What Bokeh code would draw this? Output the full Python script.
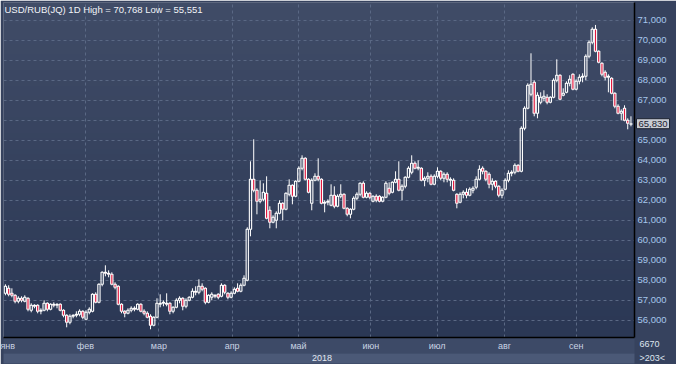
import numpy as np
from bokeh.plotting import figure
from bokeh.models import (ColumnDataSource, FixedTicker, LinearAxis, Label, Range1d)
from bokeh.embed import file_html
from bokeh.resources import INLINE

# ---- data: USD/RUB daily candles, Jan..Sep 2018 ----
opens = [
    57.35, 57.60, 57.35, 57.25, 56.95, 57.10, 56.95, 57.10, 56.50, 56.75, 56.75, 56.45, 56.50,
    56.85, 56.55, 56.80, 56.75, 56.80, 56.50, 56.25, 55.90, 56.20, 56.25, 56.30, 56.45,
    56.05, 56.40, 56.45, 57.30, 56.90, 57.80, 58.40, 58.35, 58.30, 57.80, 57.70, 56.80, 56.45,
    56.35, 56.50, 56.60, 56.55, 56.80, 56.45, 56.35, 56.20, 55.75, 56.15,
    56.80, 56.85, 56.85, 56.85, 56.45, 56.65, 57.00, 57.10, 56.70, 57.00, 57.15, 57.45,
    57.40, 57.70, 57.60, 56.90, 57.15, 57.25, 57.30, 57.20, 57.75, 57.35, 57.15,
    57.35, 57.60, 57.45, 57.75, 58.00, 60.55, 63.05, 62.50, 61.95, 62.05, 62.35, 61.50,
    60.90, 61.00, 61.35, 61.85, 61.55, 62.30, 62.75, 62.20,
    62.95, 63.60, 64.10, 63.05, 61.85, 63.00, 63.20, 63.05, 61.85, 61.90, 61.75, 62.25,
    61.70, 62.20, 62.30, 61.60, 61.30, 61.55, 62.10, 62.30, 62.85, 62.15, 62.35,
    61.95, 62.20, 62.20, 61.95, 62.15, 62.60, 62.40, 62.90, 63.05, 62.50, 62.70, 63.15,
    63.40, 63.85, 63.60, 63.60, 63.00, 63.10, 63.20, 62.80,
    63.20, 63.45, 63.10, 63.30, 63.00, 63.00, 62.30, 61.90, 62.30, 62.40, 62.25, 62.50,
    62.65, 63.05, 63.60, 63.45, 63.30, 62.80, 62.95, 62.70, 62.25,
    62.55, 63.00, 63.35, 63.40, 63.75, 63.45, 65.60, 66.60, 67.30, 67.90, 66.35, 66.90,
    67.10, 67.15, 66.90, 67.15, 68.00, 68.25, 67.25, 67.40, 67.85, 68.30,
    67.55, 67.95, 68.15, 68.20, 69.20, 69.90, 70.55, 69.45, 68.85, 68.40, 68.15, 68.10,
    67.35, 66.70, 66.35, 66.60, 66.00, 65.80,
]
highs = [
    57.80, 57.75, 57.60, 57.30, 57.20, 57.20, 57.25, 57.15, 56.85, 56.80, 56.80, 56.60, 57.00,
    56.90, 56.85, 56.90, 56.85, 56.85, 56.55, 56.30, 56.30, 56.30, 56.45, 56.55, 56.50,
    56.50, 56.65, 57.35, 57.40, 57.85, 58.45, 58.75, 58.50, 58.40, 57.90, 57.75, 56.85, 56.50,
    56.60, 56.70, 56.70, 56.85, 56.85, 56.55, 56.45, 56.30, 56.20, 57.10,
    57.30, 57.00, 57.35, 56.90, 56.70, 57.10, 57.20, 57.15, 57.10, 57.20, 57.60, 57.70,
    58.05, 57.85, 57.65, 57.30, 57.40, 57.30, 57.35, 57.85, 57.80, 57.40, 57.45,
    57.65, 57.85, 57.85, 58.25, 60.65, 63.95, 65.05, 62.60, 63.00, 62.85, 63.20, 61.70,
    61.25, 61.45, 62.00, 61.90, 62.40, 63.05, 62.80, 63.00,
    63.70, 64.25, 64.15, 63.10, 63.10, 63.35, 64.10, 63.10, 62.00, 62.05, 62.80, 62.70,
    62.30, 62.80, 62.35, 61.65, 61.60, 62.20, 62.40, 62.90, 62.95, 62.45, 62.40,
    62.25, 62.30, 62.25, 62.20, 62.95, 62.90, 62.95, 63.45, 63.95, 62.80, 63.20, 63.70,
    64.25, 63.95, 64.00, 63.65, 63.20, 63.40, 63.30, 63.30,
    63.65, 63.50, 63.40, 63.40, 63.15, 63.10, 62.35, 62.40, 62.50, 62.60, 62.65, 62.70,
    63.20, 63.75, 63.70, 63.50, 63.40, 63.10, 63.00, 62.75, 62.60,
    63.10, 63.50, 63.50, 63.85, 63.80, 65.70, 66.70, 67.85, 69.35, 68.00, 67.40, 67.40,
    67.50, 67.30, 67.20, 68.10, 69.05, 68.30, 67.60, 67.95, 68.25, 68.35,
    68.05, 68.30, 68.35, 69.30, 70.00, 70.65, 70.768, 69.50, 68.90, 68.50, 68.30, 68.15,
    67.40, 66.80, 66.55, 66.75, 66.10, 66.20,
]
lows = [
    57.25, 57.20, 57.15, 56.85, 56.85, 56.90, 56.90, 56.45, 56.40, 56.60, 56.35, 56.30, 56.45,
    56.45, 56.50, 56.65, 56.60, 56.45, 56.15, 55.65, 55.80, 56.10, 56.15, 56.20, 56.05,
    56.00, 56.30, 56.40, 56.85, 56.85, 57.70, 58.20, 58.15, 57.75, 57.55, 56.75, 56.35, 56.15,
    56.30, 56.40, 56.45, 56.50, 56.40, 56.25, 56.10, 55.551, 55.70, 56.10,
    56.65, 56.70, 56.70, 56.30, 56.35, 56.60, 56.85, 56.50, 56.60, 56.95, 57.10, 57.25,
    57.30, 57.45, 56.80, 56.85, 57.00, 57.10, 57.05, 57.15, 57.30, 57.05, 57.10,
    57.30, 57.40, 57.40, 57.70, 57.95, 60.20, 62.40, 61.30, 61.85, 61.95, 61.05, 60.60,
    60.85, 60.60, 61.30, 61.00, 61.50, 62.20, 61.80, 62.15,
    62.90, 63.50, 63.00, 62.35, 61.50, 62.95, 62.95, 61.80, 61.40, 61.75, 61.70, 61.60,
    61.65, 62.10, 61.55, 61.20, 61.10, 61.50, 62.00, 62.20, 62.10, 62.10, 62.05,
    61.90, 61.90, 61.90, 61.90, 62.10, 62.25, 62.35, 62.85, 62.45, 62.00, 62.60, 63.10,
    63.30, 63.55, 63.50, 62.95, 62.70, 62.90, 62.75, 62.75,
    63.10, 63.00, 62.90, 62.90, 62.70, 62.45, 61.60, 61.85, 62.10, 62.10, 62.20, 62.35,
    62.55, 63.00, 63.30, 62.95, 62.60, 62.50, 62.60, 62.15, 62.10,
    62.50, 62.90, 63.20, 63.30, 63.40, 63.40, 65.50, 66.55, 67.20, 66.20, 66.10, 66.80,
    66.95, 66.80, 66.85, 67.10, 67.90, 67.00, 67.20, 67.35, 67.70, 67.50,
    67.50, 67.80, 67.90, 68.00, 69.10, 69.80, 69.40, 68.85, 68.20, 68.00, 67.40, 67.30,
    66.60, 66.30, 66.00, 65.95, 65.55, 65.70,
]
closes = [
    57.70, 57.30, 57.25, 56.95, 57.10, 57.00, 57.15, 56.55, 56.75, 56.70, 56.45, 56.50, 56.85,
    56.55, 56.80, 56.75, 56.80, 56.50, 56.25, 55.90, 56.20, 56.25, 56.30, 56.45, 56.15,
    56.40, 56.55, 57.30, 56.90, 57.80, 58.40, 58.35, 58.30, 57.80, 57.65, 56.80, 56.45, 56.35,
    56.50, 56.60, 56.55, 56.80, 56.45, 56.35, 56.15, 55.75, 56.15, 56.85,
    56.85, 56.90, 56.80, 56.45, 56.65, 57.00, 57.10, 56.70, 57.00, 57.15, 57.45, 57.40,
    57.70, 57.55, 56.90, 57.25, 57.30, 57.20, 57.15, 57.75, 57.40, 57.15, 57.35,
    57.55, 57.45, 57.75, 58.10, 60.55, 63.05, 62.50, 61.95, 62.05, 62.40, 61.10, 60.90,
    61.15, 61.35, 61.85, 61.55, 62.35, 62.75, 62.20, 62.95,
    63.60, 64.10, 63.05, 62.40, 63.00, 63.20, 63.05, 61.85, 61.90, 61.95, 62.25, 61.70,
    62.20, 62.30, 61.60, 61.30, 61.55, 62.10, 62.30, 62.85, 62.15, 62.35, 62.15,
    62.20, 62.00, 61.95, 62.15, 62.85, 62.35, 62.90, 63.05, 62.50, 62.70, 63.15, 63.60,
    63.85, 63.60, 63.65, 63.00, 63.10, 63.20, 62.80, 63.20,
    63.45, 63.10, 63.30, 63.05, 63.05, 62.50, 61.85, 62.30, 62.40, 62.25, 62.55, 62.60,
    63.05, 63.55, 63.45, 63.05, 62.80, 62.95, 62.70, 62.25, 62.50,
    63.00, 63.35, 63.40, 63.75, 63.45, 65.60, 66.60, 67.75, 67.80, 66.35, 67.25, 67.15,
    67.20, 66.90, 67.15, 68.00, 68.25, 67.05, 67.35, 67.85, 68.05, 67.55,
    67.95, 68.15, 68.20, 69.20, 69.90, 70.55, 69.45, 68.90, 68.30, 68.15, 68.20, 67.35,
    66.70, 66.35, 66.45, 66.00, 65.85, 65.83,
]

month_labels = ["янв", "фев", "мар", "апр", "май", "июн", "июл", "авг", "сен"]
month_pos = [-0.55, 24.8, 47.6, 70.3, 90.9, 113.3, 133.9, 154.8, 177.0]
year_label = "2018"
year_pos = 98.2
y_ticks = list(range(56, 72))
y_tick_labels = ["%d,000" % t for t in y_ticks]
title_text = "USD/RUB(JQ) 1D High = 70,768 Low = 55,551"
last_price_text = "65,830"
last_price = 65.83
covered_tick = 66            # hidden under the last-price box
corner_text = "\n\n6670\n>203<"
corner_tick = 55.15

# ---- layout / style ----
X0, X1 = -0.6, 195.1
Y0, Y1 = 55.14, 71.89
FONT = "Liberation Sans"
BORDER_BG = "#36425e"
UP_LINE = "#ffffff"
DOWN_FILL = "#e3173e"
PRICE_BOX_W = 33             # width of the last-price box panel (px)

p = figure(width=676, height=364, output_backend="svg", toolbar_location=None,
           x_range=Range1d(X0, X1), y_range=Range1d(Y0, Y1),
           y_axis_location="right",
           min_border_left=3, min_border_right=42, min_border_top=2, min_border_bottom=27)
p.border_fill_color = BORDER_BG
p.background_fill_color = "#36425e"
p.outline_line_color = None

# vertical gradient background of the plotting area
rows = 64
top_c = np.array([64, 76, 103], dtype=float)
bot_c = np.array([43, 56, 85], dtype=float)
t = np.linspace(0.0, 1.0, rows)[:, None]
cols = bot_c + (top_c - bot_c) * t
img = np.zeros((rows, 2), dtype=np.uint32)
view = img.view(dtype=np.uint8).reshape((rows, 2, 4))
for k in range(3):
    view[:, :, k] = cols[:, k].astype(np.uint8)[:, None]
view[:, :, 3] = 255
bg = p.image_rgba(image=[img], x=X0, y=Y0, dw=X1 - X0, dh=Y1 - Y0)
bg.level = "image"

# grid
p.xgrid.ticker = FixedTicker(ticks=month_pos[1:])
p.ygrid.ticker = FixedTicker(ticks=y_ticks)
for g in (p.xgrid, p.ygrid):
    g.grid_line_color = "#5a6884"
    g.grid_line_dash = "3 3"
    g.grid_line_width = 1

# candles
x = list(range(len(closes)))
up = [c >= o for o, c in zip(opens, closes)]
body_top = [max(o, c) for o, c in zip(opens, closes)]
body_bot = [min(o, c) for o, c in zip(opens, closes)]
src = ColumnDataSource(dict(x=x, high=highs, low=lows, top=body_top, bottom=body_bot))
p.segment(x0="x", y0="high", x1="x", y1="top", source=src, line_color=UP_LINE, line_width=1)
p.segment(x0="x", y0="bottom", x1="x", y1="low", source=src, line_color=UP_LINE, line_width=1)

def subset(mask):
    return ColumnDataSource(dict(
        x=[xi for xi, m in zip(x, mask) if m],
        top=[v for v, m in zip(body_top, mask) if m],
        bottom=[v for v, m in zip(body_bot, mask) if m]))

p.vbar(x="x", width=0.7, top="top", bottom="bottom", source=subset(up),
       fill_color=None, line_color=UP_LINE, line_width=1.1)
p.vbar(x="x", width=0.7, top="top", bottom="bottom", source=subset([not u for u in up]),
       fill_color=DOWN_FILL, line_color=UP_LINE, line_width=1.1)

def bare(ax):
    ax.major_tick_out = 0
    ax.major_tick_in = 0
    ax.minor_tick_out = 0
    ax.minor_tick_in = 0

# black separator line on the right edge of the plotting area (label-less axis)
sep = LinearAxis(ticker=FixedTicker(ticks=[]), axis_line_color="black", axis_line_width=1.5,
                 major_label_standoff=0)
bare(sep)

# last-price box (side-panel label, not clipped to the frame)
lp = Label(x=X1, y=last_price, x_offset=2, text=last_price_text,
           text_baseline="middle", text_align="left", text_color="#1b2130",
           text_font=FONT, text_font_size="9.5px", padding=2,
           background_fill_color="#c8ccd3", border_line_color="#1e2432")

# right price axis (labels pulled back next to the frame)
ya = p.yaxis[0]
ya.ticker = FixedTicker(ticks=y_ticks)
ya.major_label_overrides = {tk: ("" if tk == covered_tick else lab)
                            for tk, lab in zip(y_ticks, y_tick_labels)}
ya.major_label_text_color = "#a6c6ec"
ya.major_label_text_font = FONT
ya.major_label_text_font_size = "9.5px"
bare(ya)
ya.axis_line_color = None
ya.major_label_standoff = 3 - PRICE_BOX_W

# bottom-right corner texts
ca = LinearAxis(ticker=FixedTicker(ticks=[corner_tick]),
                major_label_overrides={corner_tick: corner_text})
bare(ca)
ca.axis_line_color = None
ca.major_label_text_color = "#dfe5ef"
ca.major_label_text_font = FONT
ca.major_label_text_font_size = "9px"
ca.major_label_text_line_height = 1.4
ca.major_label_standoff = -30

p.right = [sep, lp, ya, ca]

# month axis
xa = p.xaxis[0]
xa.ticker = FixedTicker(ticks=month_pos)
xa.major_label_overrides = {pos: lab for pos, lab in zip(month_pos, month_labels)}
xa.major_label_text_color = "#c9d3e3"
xa.major_label_text_font = FONT
xa.major_label_text_font_size = "9px"
bare(xa)
xa.axis_line_color = "black"
xa.axis_line_width = 1.5
xa.major_label_standoff = 3
xa.background_fill_color = "#3d4a67"

# year axis
ra = LinearAxis(ticker=FixedTicker(ticks=[year_pos]),
                major_label_overrides={year_pos: year_label})
ra.major_label_text_color = "#e2e8f2"
ra.major_label_text_font = FONT
ra.major_label_text_font_size = "9px"
bare(ra)
ra.axis_line_color = None
ra.major_label_standoff = 1
ra.background_fill_color = "#4b5977"
p.add_layout(ra, "below")

# title inside the plotting area
p.add_layout(Label(x=X0, y=Y1, x_offset=1, y_offset=-1, text=title_text,
                   text_baseline="top", text_align="left", text_color="#f2f4f8",
                   text_font=FONT, text_font_size="9.5px"))

open("out.html", "w").write(file_html(p, INLINE))
